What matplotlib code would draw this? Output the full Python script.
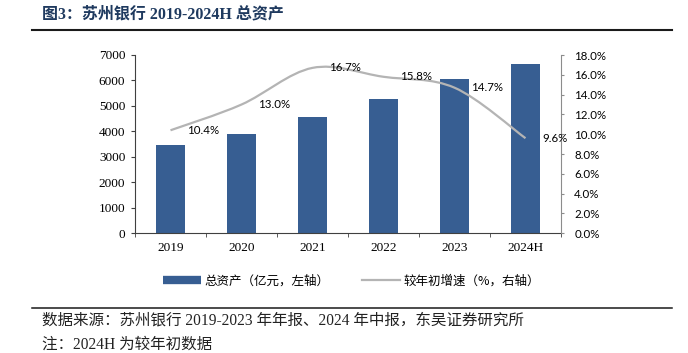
import numpy as np
import matplotlib
matplotlib.use('Agg')
import matplotlib.pyplot as plt
from matplotlib.path import Path
from matplotlib.patches import PathPatch
from matplotlib.lines import Line2D
from matplotlib.font_manager import FontProperties

# data
years = ['2019', '2020', '2021', '2022', '2023', '2024H']
total_assets = [3450, 3900, 4550, 5280, 6060, 6640]   # 亿元
growth = [10.4, 13.0, 16.7, 15.8, 14.7, 9.6]         # %
growth_labels = ['10.4%', '13.0%', '16.7%', '15.8%', '14.7%', '9.6%']

title = '图3：苏州银行 2019-2024H 总资产'
legend_labels = ['总资产（亿元，左轴）', '较年初增速（%，右轴）']
source_note = '数据来源：苏州银行 2019-2023 年年报、2024 年中报，东吴证券研究所'
note = '注：2024H 为较年初数据'

bar_color = '#375E92'
line_color = '#B4B4B4'
mixed = ['Liberation Serif', 'Noto Sans CJK SC']


def smooth_path(xs, ys):
    # Catmull-Rom style bezier through the points, like a smoothed office line
    pts = np.column_stack([xs, ys]).astype(float)
    n = len(pts)
    verts = [pts[0]]
    codes = [Path.MOVETO]
    for i in range(n - 1):
        p0 = pts[max(i - 1, 0)]
        p1 = pts[i]
        p2 = pts[i + 1]
        p3 = pts[min(i + 2, n - 1)]
        verts += [p1 + (p2 - p0) / 6, p2 - (p3 - p1) / 6, p2]
        codes += [Path.CURVE4] * 3
    return Path(verts, codes)


W, H = 688, 353
fig = plt.figure(figsize=(W / 100, H / 100), dpi=100)
ax = fig.add_axes([135 / W, 1 - 233.3 / H, (561 - 135) / W, (233.3 - 55) / H])
ax2 = ax.twinx()

x = np.arange(len(years))
ax.bar(x, total_assets, width=0.42, color=bar_color, zorder=2)
ax.set_xlim(-0.5, len(years) - 0.5)
ax.set_ylim(0, 7000)
ax.set_yticks(range(0, 7001, 1000))
ax.set_xticks(x, years)
ax.set_xticks(np.arange(-0.5, len(years), 1), minor=True)

ax2.set_ylim(0, 18)
ax2.set_yticks(np.arange(0, 18.1, 2))
ax2.yaxis.set_major_formatter(lambda v, p: f'{v:.1f}%')

ax2.add_patch(PathPatch(smooth_path(x, growth), facecolor='none',
                        edgecolor=line_color, lw=1.6, zorder=3))
for xi, yi, lbl in zip(x, growth, growth_labels):
    ax2.annotate(lbl, (xi, yi), xytext=(17, 0), textcoords='offset pixels',
                 ha='left', va='center', fontsize=8.3, family='Lato')

# spines and ticks
for a in (ax, ax2):
    a.spines['top'].set_visible(False)
ax.spines['right'].set_visible(False)
ax2.spines['left'].set_visible(False)
ax2.spines['bottom'].set_visible(False)
ax.spines['left'].set_color('#404040')
ax.spines['bottom'].set_color('#404040')
ax2.spines['right'].set_color('#8C8C8C')

ax.tick_params(axis='y', direction='out', length=3, pad=4, color='#404040',
               labelsize=9.5)
ax.tick_params(axis='x', which='major', length=0, pad=6, labelsize=9.5)
ax.tick_params(axis='x', which='minor', direction='out', length=3, color='#404040')
ax2.tick_params(axis='y', direction='out', length=2.5, pad=7, color='#8C8C8C',
                labelsize=8.3)
for lab in ax.get_xticklabels() + ax.get_yticklabels():
    lab.set_family('Liberation Serif')
for lab in ax2.get_yticklabels():
    lab.set_family('Lato')

# legend below the plot
handles = [Line2D([], [], color=bar_color, lw=6, solid_capstyle='butt'),
           Line2D([], [], color=line_color, lw=1.6)]
fig.legend(handles, legend_labels, loc='center', bbox_to_anchor=(351.5 / W, 1 - 280.7 / H),
           ncol=2, frameon=False, handlelength=3, columnspacing=2.6, handletextpad=0.3,
           prop=FontProperties(family=['Noto Sans CJK SC'], size=9))

# title, rules and notes
fig.text(42 / W, 1 - 14.5 / H, title, ha='left', va='center', fontsize=11.5,
         fontweight='bold', color='#1F3A5F', family=mixed)
fig.add_artist(Line2D([32 / W, 672 / W], [1 - 30 / H] * 2, color='#1A1A1A', lw=1.5))
fig.add_artist(Line2D([32 / W, 672 / W], [1 - 308.3 / H] * 2, color='#1A1A1A', lw=1.1))
fig.text(42 / W, 1 - 320.7 / H, source_note, ha='left', va='center', fontsize=11.2,
         family=mixed, color='#222222')
fig.text(42 / W, 1 - 344.5 / H, note, ha='left', va='center', fontsize=11.2,
         family=mixed, color='#222222')

fig.savefig('out.png', dpi=100)
